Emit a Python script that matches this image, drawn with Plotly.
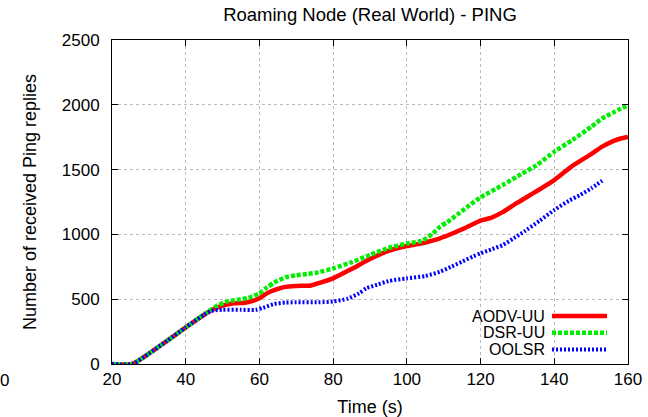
import plotly.graph_objects as go

# ---- data ----
aodv_x = [20, 25.5, 30, 35, 40, 45, 47, 50, 53, 56, 58, 60, 62, 64, 67, 70, 74, 77, 80, 85, 90, 95, 100, 103, 106, 109, 112, 115, 118, 120, 123, 126, 130, 135, 140, 145, 150, 153, 156, 158, 160]
aodv_y = [0, 0, 80, 180, 282, 380, 415, 450, 468, 473, 485, 507, 545, 570, 595, 602, 606, 632, 661, 733, 810, 873, 910, 925, 945, 970, 1003, 1040, 1080, 1106, 1130, 1172, 1245, 1330, 1419, 1530, 1620, 1677, 1720, 1740, 1752]

dsr_x = [20, 25.5, 30, 35, 40, 45, 48, 51, 54, 57, 60, 62, 64, 67, 70, 73, 76, 80, 85, 90, 95, 100, 104, 107, 109, 111, 114, 117, 120, 126, 131, 135, 140, 145, 150, 153, 156, 158, 160]
dsr_y = [0, 0, 80, 180, 282, 385, 440, 481, 495, 510, 545, 590, 628, 668, 685, 695, 707, 738, 785, 842, 895, 930, 950, 1005, 1059, 1095, 1160, 1225, 1286, 1381, 1465, 1530, 1638, 1730, 1830, 1895, 1940, 1970, 1995]

oolsr_x = [20, 25.5, 30, 35, 40, 45, 47, 50, 55, 59, 61, 64, 67, 70, 76, 80, 84, 87, 89, 92, 95, 100, 105, 109, 112, 115, 118, 120, 123, 126, 129, 132, 136, 140, 144, 147, 150, 153]
oolsr_y = [0, 0, 80, 180, 282, 380, 410, 418, 418, 418, 434, 463, 474, 476, 476, 482, 505, 545, 584, 612, 640, 661, 679, 712, 750, 790, 830, 854, 885, 918, 970, 1025, 1105, 1188, 1260, 1304, 1355, 1414]

series_names = ["AODV-UU", "DSR-UU", "OOLSR"]
x_ticks = [20, 40, 60, 80, 100, 120, 140, 160]
y_ticks = [0, 500, 1000, 1500, 2000, 2500]

styles = [
    dict(color="#ff0000", width=4.5, dash="solid"),
    dict(color="#00ee00", width=4.5, dash="4px,2px"),
    dict(color="#0000ff", width=4, dash="2px,2px"),
]

FONT = "Liberation Sans, Arial, Helvetica, sans-serif"
FS = 17

fig = go.Figure()
for name, xs, ys, st in zip(series_names, [aodv_x, dsr_x, oolsr_x], [aodv_y, dsr_y, oolsr_y], styles):
    fig.add_trace(go.Scatter(x=xs, y=ys, mode="lines", name=name, line=dict(shape="spline", smoothing=0.6, **st), showlegend=False))

axis_common = dict(
    showline=True, linecolor="black", linewidth=1, mirror="allticks",
    ticks="inside", ticklen=6, tickcolor="black",
    showgrid=True, gridcolor="#bbbbbb", griddash="dot", gridwidth=1,
    zeroline=False, tickfont=dict(family=FONT, size=FS, color="black"),
)

fig.update_layout(
    width=648, height=417,
    margin=dict(l=112, r=20, t=40, b=53),
    paper_bgcolor="white", plot_bgcolor="white",
    title=dict(text="Roaming Node (Real World) - PING", x=0.5, xref="paper", y=0.965, yanchor="middle",
               font=dict(family=FONT, size=18.5, color="black")),
    xaxis=dict(range=[20, 160], tickvals=x_ticks,
               title=dict(text="Time (s)", font=dict(family=FONT, size=18, color="black"), standoff=11),
               automargin=False, **axis_common),
    yaxis=dict(range=[0, 2500], tickvals=y_ticks, ticklabelstandoff=8,
               title=dict(text="Number of received Ping replies", font=dict(family=FONT, size=18, color="black"), standoff=20),
               automargin=False, **axis_common),
    showlegend=False,
)

# gnuplot-style legend: text right-aligned, sample line to the right
legend_y = [0.148, 0.0963, 0.0448]
for name, st, ly in zip(series_names, styles, legend_y):
    fig.add_annotation(text=name, xref="paper", yref="paper", x=0.841, y=ly, xanchor="right", yanchor="middle",
                       showarrow=False, borderpad=0, font=dict(family=FONT, size=16, color="black"))
    fig.add_shape(type="line", xref="paper", yref="paper", x0=0.8527, x1=0.9593, y0=ly, y1=ly,
                  line=dict(color=st["color"], width=st["width"], dash=st["dash"]))

# stray "0" label at bottom-left in the original
fig.add_annotation(text="0", xref="paper", yref="paper", x=-0.2074, y=-0.052, xanchor="center", yanchor="middle",
                   showarrow=False, font=dict(family=FONT, size=FS, color="black"))

fig.write_html("out.html")
